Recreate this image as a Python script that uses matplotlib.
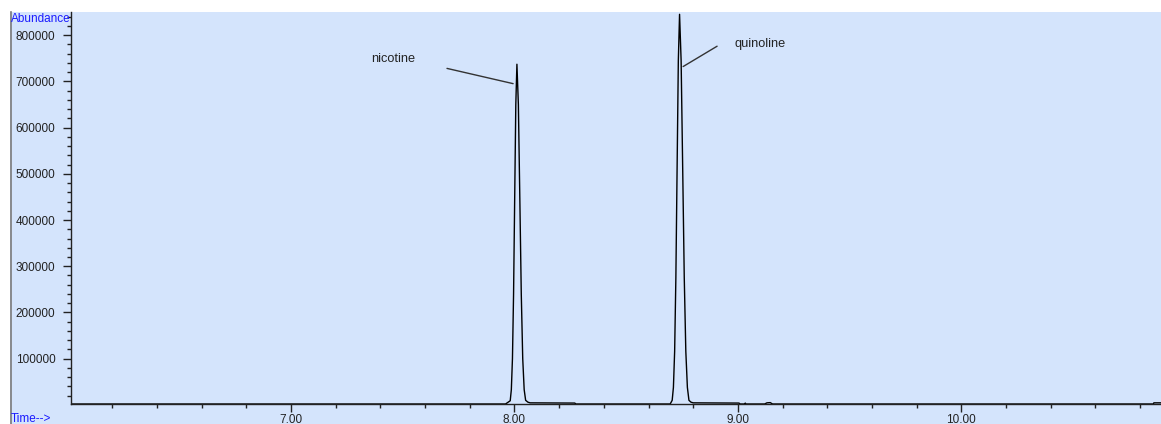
import matplotlib.pyplot as plt
from matplotlib.patches import Rectangle
from matplotlib.ticker import FixedLocator, MultipleLocator

time_min = [6.015, 7.960, 7.981, 7.986, 7.991, 7.996, 8.001, 8.006, 8.011, 8.0175, 8.024,
            8.0305, 8.037, 8.0435, 8.050, 8.060, 8.070, 8.270, 8.275,
            8.697, 8.706, 8.7115, 8.717, 8.7225, 8.728, 8.7335, 8.739, 8.746, 8.753,
            8.760, 8.767, 8.774, 8.781, 8.790, 8.800, 9.005, 9.010, 9.030, 9.033, 9.036,
            9.120, 9.130, 9.145, 9.155, 10.860, 10.862, 10.894]
abundance = [2000, 2000, 9000, 33000, 100000, 240000, 447000, 650000, 737000, 650000, 447000,
             240000, 100000, 33000, 10000, 6000, 4500, 4000, 2000,
             2000, 10000, 38000, 116000, 276000, 512000, 745000, 845000, 745000, 512000,
             276000, 116000, 38000, 10000, 6000, 4500, 4000, 2000, 2000, 4000, 2000,
             2000, 4500, 5000, 2000, 2000, 4500, 4500]

peak_names = ["nicotine", "quinoline"]
label_xy = [(7.457, 748000), (8.987, 780000)]
leader_start = [(7.698, 728000), (8.907, 776000)]
leader_end = [(7.994, 695000), (8.755, 732000)]

x_major = [7.0, 8.0, 9.0, 10.0]
y_major = [100000, 200000, 300000, 400000, 500000, 600000, 700000, 800000]

BG = "#D4E4FC"
INK = "#222222"
plt.rcParams["font.family"] = ["Liberation Sans", "DejaVu Sans"]

fig = plt.figure(figsize=(11.61, 4.24), dpi=100)
fig.patch.set_facecolor("white")
# panel background and its left border, drawn under the axes
fig.patches.append(Rectangle((10 / 1161, 0), 1 - 10 / 1161, 412 / 424,
                             transform=fig.transFigure, facecolor=BG, edgecolor="none",
                             zorder=-10))
fig.add_artist(plt.Line2D([10.5 / 1161, 10.5 / 1161], [0, 412 / 424],
                          transform=fig.transFigure, color="#7a7a7a", lw=1.2, zorder=-5))

ax = fig.add_axes([71 / 1161, 20 / 424, 1 - 71 / 1161, 392 / 424])
ax.patch.set_visible(False)
ax.plot(time_min, abundance, color="black", lw=1.0)
ax.set_xlim(6.015, 10.894)
ax.set_ylim(2000, 850000)

for s in ("top", "right"):
    ax.spines[s].set_visible(False)
for s in ("left", "bottom"):
    ax.spines[s].set_color(INK)
    ax.spines[s].set_linewidth(1.0)

ax.xaxis.set_major_locator(FixedLocator(x_major))
ax.xaxis.set_minor_locator(MultipleLocator(0.2))
ax.set_xticklabels([f"{v:.2f}" for v in x_major])
ax.yaxis.set_major_locator(FixedLocator(y_major))
ax.yaxis.set_minor_locator(MultipleLocator(20000))
ax.set_yticklabels([str(v) for v in y_major])
ax.tick_params(axis="both", which="both", direction="out", color=INK, labelcolor=INK,
               labelsize=8.5, width=1.0)
ax.tick_params(axis="y", which="major", length=5.8, pad=5.5)
ax.tick_params(axis="y", which="minor", length=3.0)
ax.tick_params(axis="x", which="major", length=5.5, pad=1.5)
ax.tick_params(axis="x", which="minor", length=3.0)

for name, xy, p0, p1 in zip(peak_names, label_xy, leader_start, leader_end):
    ax.annotate("", xy=p1, xytext=p0,
                arrowprops=dict(arrowstyle="-", color="#333333", lw=1.0,
                                shrinkA=0, shrinkB=0))
    ax.text(*xy, name, ha="center" if name == "nicotine" else "left", va="center",
            fontsize=9.2, color=INK)

fig.text(11 / 1161, 1 - 19 / 424, "Abundance", color="#1a1aff", fontsize=8.5,
         ha="left", va="center")
fig.text(11 / 1161, 1 - 419 / 424, "Time-->", color="#1a1aff", fontsize=8.5,
         ha="left", va="center")

fig.savefig("out.png", dpi=100, facecolor=fig.get_facecolor())
